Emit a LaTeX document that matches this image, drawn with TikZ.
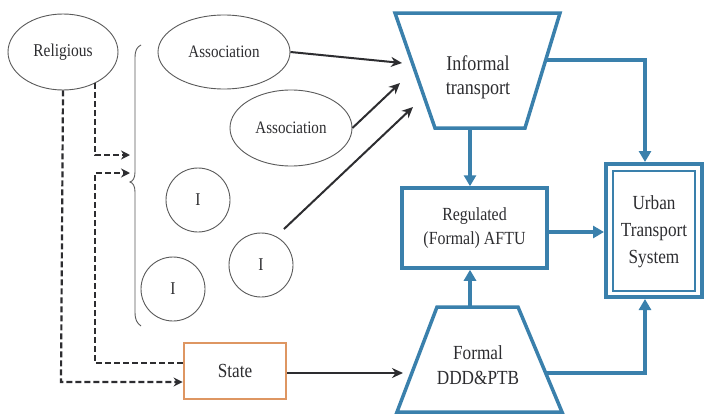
\documentclass[tikz,border=0pt]{standalone}
\usepackage{fontspec}
\setmainfont{Liberation Serif}[FakeStretch=0.86]
\usetikzlibrary{shapes.geometric,arrows.meta,calc}
\definecolor{tblue}{RGB}{58,128,172}
\definecolor{torange}{RGB}{222,150,98}
\definecolor{tdark}{RGB}{45,45,48}
\definecolor{tgray}{RGB}{90,90,90}
\newcommand{\fsz}[2]{\fontsize{#1}{#2}\selectfont}
\begin{document}
\begin{tikzpicture}[x=1pt,y=-1pt,
  oval/.style={ellipse, draw=tgray, line width=0.9pt, inner sep=0pt, text=tdark},
  ring/.style={circle, draw=tgray, line width=0.9pt, minimum size=64pt, inner sep=0pt, text=tdark, font=\fsz{18}{20}},
  txt/.style={align=center, text=tdark, inner sep=0pt},
  blueline/.style={draw=tblue, line width=3.5pt, line join=miter},
  bluearrow/.style={draw=tblue, line width=3.5pt, -{Triangle[length=11pt,width=12pt]}},
  darkarrow/.style={draw=tdark, line width=2pt, -{Stealth[length=11pt,width=10pt]}},
  dashline/.style={draw=tdark, line width=2.2pt, dash pattern=on 6pt off 3pt},
  dasharrow/.style={dashline, -{Stealth[length=9pt,width=9pt]}}]
\fill[white] (0,0) rectangle (707,415);
\useasboundingbox (0,0) rectangle (707,415);

% left-hand actors
\node[oval, minimum width=110pt, minimum height=76pt, font=\fsz{18}{20}] (rel) at (63,52) {Religious};
\node[oval, minimum width=132pt, minimum height=74pt, font=\fsz{17.5}{20}] (as1) at (224,52) {Association};
\node[oval, minimum width=122pt, minimum height=76pt, font=\fsz{17.5}{20}] (as2) at (291,128) {Association};
\node[ring] (i1) at (198,200) {I};
\node[ring] (i2) at (173,289) {I};
\node[ring] (i3) at (261,265) {I};

% brace grouping the actors
\draw[tgray, line width=0.9pt] (141,45) .. controls (137,47) and (135,50) .. (135,58) -- (135,172)
  .. controls (135,178) and (133,181) .. (130,182) .. controls (133,183) and (135,186) .. (135,192)
  -- (135,312) .. controls (135,320) and (137,323) .. (141,326);
\coordinate (braceA) at (130,155);
\coordinate (braceB) at (130,173);

% state
\node[draw=torange, line width=2.8pt, minimum width=102pt, minimum height=56pt, text=tdark, font=\fsz{20}{22}] (state) at (235,371) {State};

% informal transport (inverted trapezium)
\draw[blueline] (395,13) -- (560,13) -- (525,128) -- (435,128) -- cycle;
\node[txt, font=\fsz{21}{24}] (inf) at (478,77) {Informal\\transport};
\coordinate (infS) at (470,128);
\coordinate (infE) at (546,60);
\coordinate (infW1) at (402,63);
\coordinate (infW2) at (400,83);
\coordinate (infW3) at (413,107);

% formal transport (trapezium)
\draw[blueline] (437,307) -- (518,307) -- (562,412) -- (397,412) -- cycle;
\node[txt, font=\fsz{20}{25}] (frm) at (478,365) {Formal\\DDD\&PTB};
\coordinate (frmN) at (470,307);
\coordinate (frmE) at (546,373);
\coordinate (frmW) at (403,373);

% regulated
\node[draw=tblue, line width=3.5pt, minimum width=145pt, minimum height=80pt, align=center, text=tdark, font=\fsz{18.5}{24}] (reg) at (474.5,228) {Regulated\\(Formal) AFTU};

% urban transport system (double frame)
\node[draw=tblue, line width=4pt, minimum width=96pt, minimum height=133pt] (urb) at (654,230.5) {};
\draw[tblue, line width=1.8pt] (613,171) rectangle (695,291);
\node[txt, font=\fsz{20}{27}] at (654,232) {Urban\\Transport\\System};

% actor links
\draw[darkarrow] (as1.east) -- (infW1);
\draw[darkarrow] (as2.east) -- (infW2);
\draw[darkarrow] (i3.north east) ++(0,-13) coordinate (i3o) (i3o) -- (infW3);
\draw[darkarrow] (state.east) ++(0,2) coordinate (sto) (sto) -- (frmW);

% influence (dashed)
\draw[dasharrow] (rel.south) -- (61,382) -- (state.west |- 0,382);
\draw[dasharrow] ($(rel.center)+(32,31)$) -- (95,155) -- (braceA);
\draw[dasharrow] (state.west |- 0,363) -- (95,363) -- (95,173) -- (braceB);

% transport flows
\draw[bluearrow] (infS) -- (reg.north -| infS);
\draw[bluearrow] (frmN) -- (reg.south -| frmN);
\draw[bluearrow] (reg.east |- 0,232) -- (urb.west |- 0,232);
\draw[bluearrow] (infE) -- (645,60) -- (urb.north -| 645,0);
\draw[bluearrow] (frmE) -- (645,373) -- (urb.south -| 645,0);
\end{tikzpicture}
\end{document}
